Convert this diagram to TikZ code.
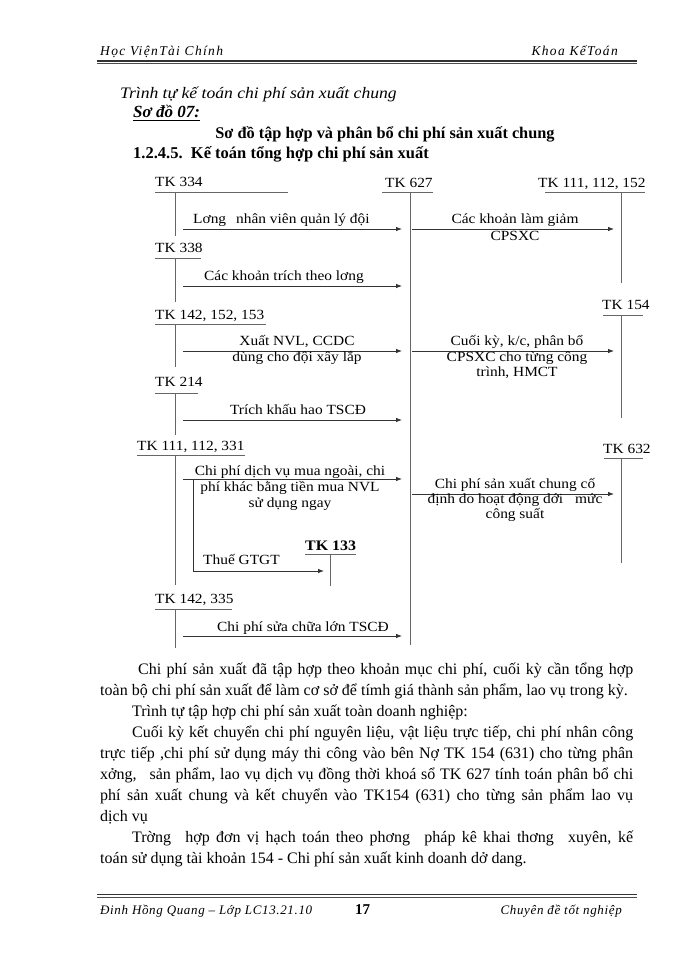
\documentclass[tikz,border=0pt]{standalone}
\usepackage{fontspec}
\setmainfont{Liberation Serif}
\newfontfamily\spfont[LetterSpace=10]{Liberation Serif}
\newfontfamily\ftfont[LetterSpace=5]{Liberation Serif}
\newfontfamily\dfont[FakeStretch=1.1]{Liberation Serif}
\usetikzlibrary{arrows.meta}
\begin{document}
\begin{tikzpicture}[x=1pt,y=-1pt,
  txt/.style={inner sep=0pt, anchor=base west, font={\dfont\fontsize{14}{16}\selectfont}},
  ctxt/.style={inner sep=0pt, anchor=base, font={\dfont\fontsize{14}{16}\selectfont}},
  ptxt/.style={inner sep=0pt, anchor=base west, font=\fontsize{16}{18}\selectfont},
  htxt/.style={inner sep=0pt, font=\fontsize{13.5}{15}\selectfont\spfont\itshape},
  ftxt/.style={inner sep=0pt, font=\fontsize{13}{15}\selectfont\ftfont\itshape},
  acct/.style={line width=0.9pt, draw=black!60},
  flow/.style={line width=0.8pt, draw=black!80, -{Latex[length=6pt,width=4.5pt]}},
]
\useasboundingbox[fill=white] (0,0) rectangle (700,960);

% header
\node[htxt, anchor=base west] (h1) at (100,56) {Học ViệnTài Chính};
\node[htxt, anchor=base east] (h2) at (618,56) {Khoa KếToán};
\coordinate (hl1) at (97,61); \coordinate (hl2) at (637,61);
\draw[line width=1.4pt, draw=black!80] (hl1) -- (hl2);
\coordinate (hm1) at (97,63.5); \coordinate (hm2) at (637,63.5);
\draw[line width=0.5pt, draw=black!70] (hm1) -- (hm2);

% titles
\node[inner sep=0pt, anchor=base west, font={\dfont\fontsize{16}{18}\selectfont\itshape}] (t1) at (120,99) {Trình tự kế toán chi phí sản xuất chung};
\node[inner sep=0pt, anchor=base west, font=\fontsize{17}{19}\selectfont\bfseries\itshape] (t2) at (133,118) {Sơ đồ 07:};
\coordinate (u1) at (t2.base west); \coordinate (u2) at (t2.base east);
\draw[line width=0.9pt] ([yshift=-2pt]u1) -- ([yshift=-2pt]u2);
\node[inner sep=0pt, anchor=base, font=\fontsize{16.3}{18}\selectfont\bfseries] (t3) at (385,139) {Sơ đồ tập hợp và phân bổ chi phí sản xuất chung};
\node[inner sep=0pt, anchor=base west, font=\fontsize{16.5}{18}\selectfont\bfseries] (t4) at (133,159) {1.2.4.5.\ \ Kế toán tổng hợp chi phí sản xuất};

% ---------- left accounts ----------
\node[txt] (k334) at (155,186) {TK 334};
\coordinate (k334a) at (155,192); \coordinate (k334b) at (288,192);
\coordinate (k334t) at (175,192); \coordinate (k334e) at (175,236);
\draw[acct] (k334a) -- (k334b); \draw[acct] (k334t) -- (k334e);

\node[txt] (k338) at (155,252) {TK 338};
\coordinate (k338a) at (155,258); \coordinate (k338b) at (201,258);
\coordinate (k338t) at (175,258); \coordinate (k338e) at (175,302);
\draw[acct] (k338a) -- (k338b); \draw[acct] (k338t) -- (k338e);

\node[txt] (k142) at (155,319) {TK 142, 152, 153};
\coordinate (k142a) at (155,324); \coordinate (k142b) at (266,324);
\coordinate (k142t) at (175,324); \coordinate (k142e) at (175,367);
\draw[acct] (k142a) -- (k142b); \draw[acct] (k142t) -- (k142e);

\node[txt] (k214) at (155,386) {TK 214};
\coordinate (k214a) at (155,393); \coordinate (k214b) at (198,393);
\coordinate (k214t) at (175,393); \coordinate (k214e) at (175,435);
\draw[acct] (k214a) -- (k214b); \draw[acct] (k214t) -- (k214e);

\node[txt] (k111) at (137,450) {TK 111, 112, 331};
\coordinate (k111a) at (137,455); \coordinate (k111b) at (245,455);
\coordinate (k111t) at (175,455); \coordinate (k111e) at (175,585);
\draw[acct] (k111a) -- (k111b); \draw[acct] (k111t) -- (k111e);

\node[txt, font={\dfont\fontsize{14.5}{16}\selectfont\bfseries}] (k133) at (305,550) {TK 133};
\coordinate (k133a) at (305,554); \coordinate (k133b) at (356,554);
\coordinate (k133t) at (330,554); \coordinate (k133e) at (330,586);
\draw[acct] (k133a) -- (k133b); \draw[acct] (k133t) -- (k133e);

\node[txt] (k1423) at (155,603) {TK 142, 335};
\coordinate (k1423a) at (155,609); \coordinate (k1423b) at (232,609);
\coordinate (k1423t) at (175,609); \coordinate (k1423e) at (175,648);
\draw[acct] (k1423a) -- (k1423b); \draw[acct] (k1423t) -- (k1423e);

% ---------- right accounts ----------
\node[txt] (k627) at (385,187) {TK 627};
\coordinate (k627a) at (382,192); \coordinate (k627b) at (433,192);
\coordinate (k627t) at (410,192); \coordinate (k627e) at (410,645);
\draw[acct] (k627a) -- (k627b); \draw[acct] (k627t) -- (k627e);

\node[txt] (kr111) at (538,187) {TK 111, 112, 152};
\coordinate (kr111a) at (545,192); \coordinate (kr111b) at (645,192);
\coordinate (kr111t) at (621,192); \coordinate (kr111e) at (621,283);
\draw[acct] (kr111a) -- (kr111b); \draw[acct] (kr111t) -- (kr111e);

\node[txt] (k154) at (602,309) {TK 154};
\coordinate (k154a) at (603,315); \coordinate (k154b) at (643,315);
\coordinate (k154t) at (621,315); \coordinate (k154e) at (621,418);
\draw[acct] (k154a) -- (k154b); \draw[acct] (k154t) -- (k154e);

\node[txt] (k632) at (603,453) {TK 632};
\coordinate (k632a) at (604,458); \coordinate (k632b) at (643,458);
\coordinate (k632t) at (621,458); \coordinate (k632e) at (621,563);
\draw[acct] (k632a) -- (k632b); \draw[acct] (k632t) -- (k632e);

% ---------- flows into TK 627 ----------
\coordinate (f1s) at (183,229); \coordinate (f1e) at (402,229);
\draw[flow] (f1s) -- (f1e);
\node[txt] (l1) at (193,223) {Lơng\hspace{10pt}nhân viên quản lý đội};

\coordinate (f2s) at (183,286); \coordinate (f2e) at (402,286);
\draw[flow] (f2s) -- (f2e);
\node[txt] (l2) at (204,280) {Các khoản trích theo lơng};

\coordinate (f3s) at (183,351); \coordinate (f3e) at (402,351);
\draw[flow] (f3s) -- (f3e);
\node[ctxt] (l3a) at (297,345) {Xuất NVL, CCDC};
\node[ctxt] (l3b) at (297,361) {dùng cho đội xây lắp};

\coordinate (f4s) at (183,420); \coordinate (f4e) at (402,420);
\draw[flow] (f4s) -- (f4e);
\node[ctxt] (l4) at (298,414) {Trích khấu hao TSCĐ};

\coordinate (f5s) at (183,479); \coordinate (f5e) at (402,479);
\draw[flow] (f5s) -- (f5e);
\node[ctxt] (l5a) at (290,475) {Chi phí dịch vụ mua ngoài, chi};
\node[ctxt] (l5b) at (290,491) {phí khác bằng tiền mua NVL};
\node[ctxt] (l5c) at (290,507) {sử dụng ngay};

\coordinate (b1) at (193,479); \coordinate (b2) at (193,571); \coordinate (b3) at (324,571);
\draw[flow] (b1) -- (b2) -- (b3);
\node[txt] (l6) at (203,564) {Thuế GTGT};

\coordinate (f6s) at (183,636); \coordinate (f6e) at (402,636);
\draw[flow] (f6s) -- (f6e);
\node[ctxt] (l7) at (303,631) {Chi phí sửa chữa lớn TSCĐ};

% ---------- flows out of TK 627 ----------
\coordinate (g1s) at (412,229); \coordinate (g1e) at (614,229);
\draw[flow] (g1s) -- (g1e);
\node[ctxt] (r1a) at (515,223) {Các khoản làm giảm};
\node[ctxt] (r1b) at (515,240) {CPSXC};

\coordinate (g2s) at (412,351); \coordinate (g2e) at (614,351);
\draw[flow] (g2s) -- (g2e);
\node[ctxt] (r2a) at (517,345) {Cuối kỳ, k/c, phân bổ};
\node[ctxt] (r2b) at (517,361) {CPSXC cho từng công};
\node[ctxt] (r2c) at (517,376) {trình, HMCT};

\coordinate (g3s) at (412,494); \coordinate (g3e) at (614,494);
\draw[flow] (g3s) -- (g3e);
\node[ctxt] (r3a) at (515,488) {Chi phí sản xuất chung cố};
\node[ctxt] (r3b) at (515,503) {định do hoạt động dới\hspace{12pt}mức};
\node[ctxt] (r3c) at (515,518) {công suất};

% ---------- paragraph ----------
\node[ptxt] (p1) at (138,674) {\makebox[495pt][s]{Chi phí sản xuất đã tập hợp theo khoản mục chi phí, cuối kỳ cần tổng hợp}};
\node[ptxt] (p2) at (100,695) {toàn bộ chi phí sản xuất để làm cơ sở để tímh giá thành sản phẩm, lao vụ trong kỳ.};
\node[ptxt] (p3) at (132,716) {Trình tự tập hợp chi phí sản xuất toàn doanh nghiệp:};
\node[ptxt] (p4) at (132,737) {\makebox[501pt][s]{Cuối kỳ kết chuyển chi phí nguyên liệu, vật liệu trực tiếp, chi phí nhân công}};
\node[ptxt] (p5) at (100,758) {\makebox[533pt][s]{trực tiếp ,chi phí sử dụng máy thi công vào bên Nợ TK 154 (631) cho từng phân}};
\node[ptxt] (p6) at (100,779) {\makebox[533pt][s]{xởng,\hspace{8pt} sản phẩm, lao vụ dịch vụ đồng thời khoá sổ TK 627 tính toán phân bổ chi}};
\node[ptxt] (p7) at (100,800) {\makebox[533pt][s]{phí sản xuất chung và kết chuyển vào TK154 (631) cho từng sản phẩm lao vụ}};
\node[ptxt] (p8) at (100,821) {dịch vụ};
\node[ptxt] (p9) at (132,842) {\makebox[501pt][s]{Trờng\hspace{8pt} hợp đơn vị hạch toán theo phơng\hspace{8pt} pháp kê khai thơng\hspace{8pt} xuyên, kế}};
\node[ptxt] (p10) at (100,863) {toán sử dụng tài khoản 154 - Chi phí sản xuất kinh doanh dở dang.};

% ---------- footer ----------
\coordinate (fl1) at (97,894.5); \coordinate (fl2) at (637,894.5);
\draw[line width=1.4pt, draw=black!80] (fl1) -- (fl2);
\coordinate (fm1) at (97,897.5); \coordinate (fm2) at (637,897.5);
\draw[line width=0.5pt, draw=black!70] (fm1) -- (fm2);
\node[ftxt, anchor=base west] (ft1) at (100,914) {Đinh Hồng Quang – Lớp LC13.21.10};
\node[inner sep=0pt, anchor=base west, font=\fontsize{15}{17}\selectfont\bfseries] (ft2) at (355,914) {17};
\node[ftxt, anchor=base east] (ft3) at (622,914) {Chuyên đề tốt nghiệp};
\end{tikzpicture}
\end{document}
